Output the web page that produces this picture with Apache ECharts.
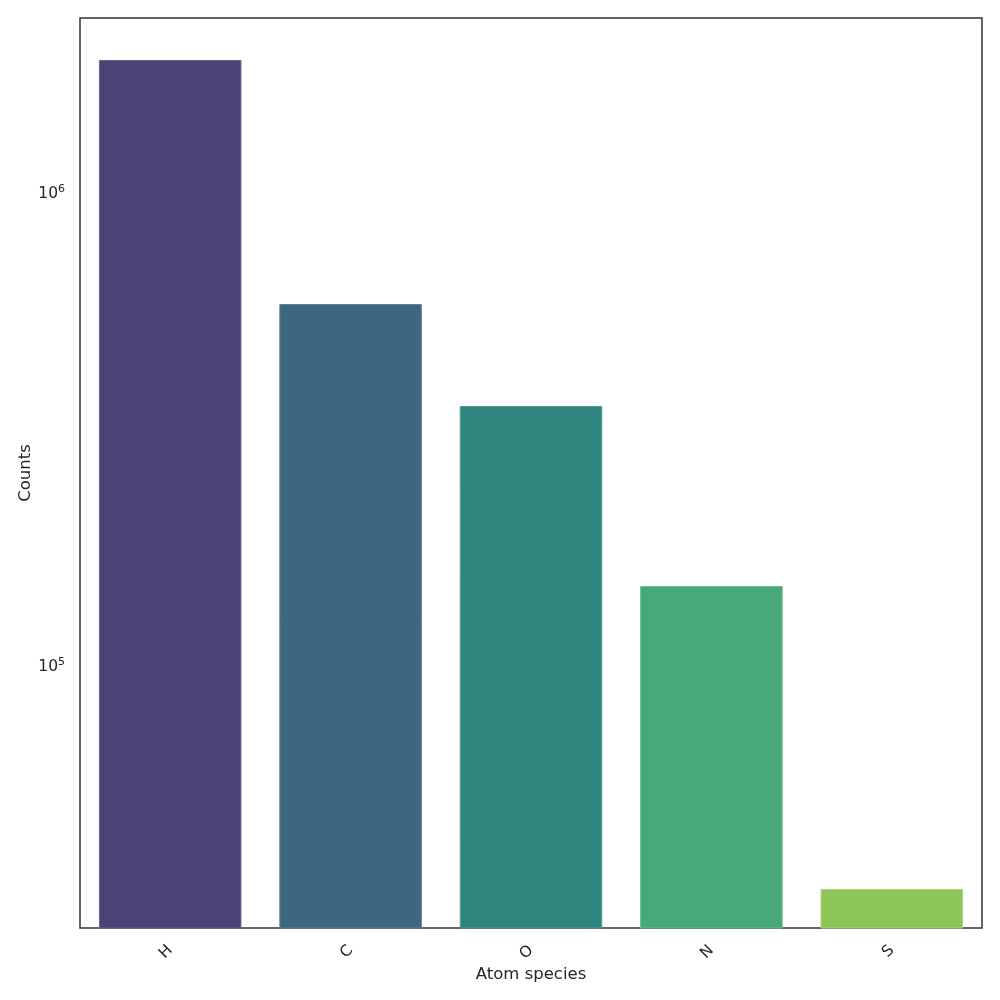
<!DOCTYPE html>
<html>
<head>
<meta charset="utf-8">
<script src="https://cdn.jsdelivr.net/npm/echarts@6/dist/echarts.min.js"></script>
<style>
  html, body { margin: 0; padding: 0; background: #fff; }
  #chart { width: 1000px; height: 1000px; }
</style>
</head>
<body>
<div id="chart"></div>
<script>
// atom species and their counts (log scale)
const species = ['H', 'C', 'O', 'N', 'S']
const counts = [1883000, 574000, 349400, 145500, 33290]
const barColors = ['#4b4378', '#3e6680', '#2f847c', '#47a878', '#8ec558']
const edgeColors = ['#6a6394', '#5d8199', '#519c95', '#67bc91', '#a8d57a']
const yMin = 27540
const yMax = 2310000

const myChart = echarts.init(document.getElementById('chart'))

const option = {
  animation: false,
  backgroundColor: '#ffffff',
  textStyle: { fontFamily: 'DejaVu Sans' },
  grid: {
    left: 80,
    right: 18,
    top: 18,
    bottom: 72,
    show: true,
    borderColor: '#333333',
    borderWidth: 1.5
  },
  xAxis: {
    type: 'category',
    data: species,
    name: 'Atom species',
    nameLocation: 'middle',
    nameGap: 38,
    nameMoveOverlap: false,
    nameTextStyle: { color: '#262626', fontSize: 16.5 },
    axisLine: { show: false },
    axisTick: { show: false },
    axisLabel: {
      rotate: 45,
      margin: 20,
      color: '#262626',
      fontSize: 15.5,
      padding: [0, 0, 0, 6]
    }
  },
  yAxis: {
    type: 'log',
    logBase: 10,
    min: yMin,
    max: yMax,
    name: 'Counts',
    nameLocation: 'middle',
    nameGap: 46,
    nameMoveOverlap: false,
    nameRotate: 90,
    nameTextStyle: { color: '#262626', fontSize: 16.5 },
    axisLine: { show: false },
    axisTick: { show: false },
    splitLine: { show: false },
    minorTick: { show: false },
    axisLabel: {
      margin: 15,
      color: '#262626',
      padding: [7, 0, 0, 0],
      formatter: function (value) {
        const e = Math.log10(value)
        if (Math.abs(e - Math.round(e)) > 1e-6) return ''
        return '{b|10}{s|' + Math.round(e) + '}'
      },
      rich: {
        b: { fontSize: 15.5, color: '#262626' },
        s: { fontSize: 11, color: '#262626', padding: [0, 0, 9, 0] }
      }
    }
  },
  series: [
    {
      type: 'bar',
      barWidth: '79%',
      data: counts.map((v, i) => ({
        value: v,
        itemStyle: {
          color: barColors[i],
          borderColor: edgeColors[i],
          borderWidth: 1
        }
      }))
    }
  ]
}
myChart.setOption(option)
</script>
</body>
</html>
